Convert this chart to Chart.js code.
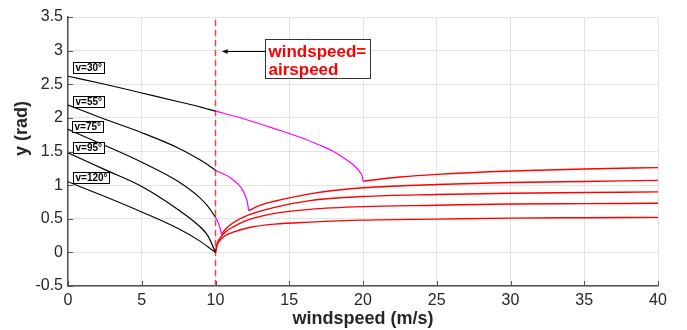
<!DOCTYPE html>
<html>
<head>
<meta charset="utf-8">
<script src="https://cdn.jsdelivr.net/npm/chart.js@4.4.1/dist/chart.umd.min.js"></script>
<style>
  html, body { margin: 0; padding: 0; background: #fff; }
  #wrap { width: 687px; height: 330px; position: relative; }
</style>
</head>
<body>
<div id="wrap"><canvas id="c"></canvas></div>
<script>
// black branch, windspeed 0..10
const blackX = [0, 2.5, 5, 7.5, 9, 9.5, 10];
const black30 = [2.62, 2.50, 2.37, 2.24, 2.16, 2.13, 2.10];
const black55 = [2.19, 1.98, 1.78, 1.55, 1.37, 1.30, 1.22];
const black75 = [1.83, 1.59, 1.34, 1.05, 0.80, 0.68, 0.52];
const black95 = [1.48, 1.23, 0.98, 0.63, 0.37, 0.24, 0.0];
const black120 = [1.05, 0.83, 0.60, 0.35, 0.16, 0.08, 0.0];

// magenta branch
const mag30X = [10, 12, 14, 16, 17, 18, 19, 19.5, 19.8, 19.95, 20];
const mag30 = [2.10, 1.98, 1.84, 1.69, 1.60, 1.50, 1.36, 1.27, 1.19, 1.13, 1.06];
const mag55X = [10, 10.5, 11, 11.5, 11.8, 12.0, 12.15, 12.25];
const mag55 = [1.22, 1.17, 1.11, 1.02, 0.94, 0.85, 0.76, 0.62];
const mag75X = [10, 10.15, 10.3, 10.4];
const mag75 = [0.52, 0.46, 0.37, 0.27];

// red branch
const red30X = [20, 22.5, 25, 30, 35, 40];
const red30 = [1.06, 1.12, 1.16, 1.21, 1.24, 1.26];
const red55X = [12.25, 13, 14, 15, 16.4, 18, 20, 25, 30, 35, 40];
const red55 = [0.62, 0.70, 0.76, 0.81, 0.87, 0.92, 0.96, 1.01, 1.04, 1.055, 1.07];
const red75X = [10.4, 10.7, 11.2, 12.3, 14, 16.4, 20, 25, 30, 35, 40];
const red75 = [0.27, 0.35, 0.44, 0.56, 0.67, 0.77, 0.83, 0.86, 0.88, 0.89, 0.90];
const redLowX = [10, 10.1, 10.3, 10.6, 11.2, 12.3, 14, 16.4, 20, 25, 30, 35, 40];
const red95 = [0, 0.12, 0.21, 0.29, 0.38, 0.49, 0.58, 0.64, 0.68, 0.70, 0.72, 0.725, 0.73];
const red120 = [0, 0.10, 0.18, 0.24, 0.30, 0.37, 0.42, 0.45, 0.48, 0.495, 0.51, 0.515, 0.52];

const airspeedX = [10, 10];
const airspeedY = [-0.5, 3.5];

const xTicks = [0, 5, 10, 15, 20, 25, 30, 35, 40];
const yTicks = [-0.5, 0, 0.5, 1, 1.5, 2, 2.5, 3, 3.5];

const vLabels = ["v=30°", "v=55°", "v=75°", "v=95°", "v=120°"];
const vLabelX = [0.32, 0.36, 0.25, 0.36, 0.32];
const vLabelY = [2.74, 2.235, 1.87, 1.545, 1.10];

const noteLines = ["windspeed=", "airspeed"];

const FONT = '"Liberation Sans", Arial, Helvetica, sans-serif';

const pts = (xs, ys) => xs.map((v, i) => ({ x: v, y: ys[i] }));
const line = (xs, ys, color, w) => ({
  data: pts(xs, ys), borderColor: color, backgroundColor: color,
  borderWidth: w, pointRadius: 0, cubicInterpolationMode: "monotone", fill: false,
});

const overlay = {
  id: "overlay",
  afterDatasetsDraw(chart) {
    const { ctx, chartArea: a, scales: { x, y } } = chart;
    ctx.save();

    // inward ticks, matlab style
    ctx.strokeStyle = "#555"; ctx.lineWidth = 1;
    ctx.beginPath();
    xTicks.forEach((v) => {
      const px = Math.round(x.getPixelForValue(v)) + 0.5;
      ctx.moveTo(px, a.bottom); ctx.lineTo(px, a.bottom - 5);
    });
    yTicks.forEach((v) => {
      const py = Math.round(y.getPixelForValue(v)) + 0.5;
      ctx.moveTo(a.left, py); ctx.lineTo(a.left + 5, py);
    });
    ctx.stroke();

    // v labels
    ctx.font = "bold 10px " + FONT;
    ctx.textBaseline = "middle"; ctx.textAlign = "left";
    vLabels.forEach((t, i) => {
      const px = Math.round(x.getPixelForValue(vLabelX[i])) + 0.5;
      const py = Math.round(y.getPixelForValue(vLabelY[i]));
      const w = Math.round(ctx.measureText(t).width + 4), h = 11;
      ctx.fillStyle = "#fff"; ctx.fillRect(px, py - 5.5, w, h);
      ctx.strokeStyle = "#000"; ctx.lineWidth = 1; ctx.strokeRect(px, py - 5.5, w, h);
      ctx.fillStyle = "#000"; ctx.fillText(t, px + 2, py + 0.5);
    });

    // windspeed = airspeed note
    ctx.font = "bold 17px " + FONT;
    const bx = Math.round(x.getPixelForValue(13.36)) + 0.5;
    const by = Math.round(y.getPixelForValue(3.18)) + 0.5;
    const bh = Math.round(y.getPixelForValue(2.60) - y.getPixelForValue(3.18));
    const bw = Math.round(Math.max(...noteLines.map((t) => ctx.measureText(t).width)) + 7);
    ctx.fillStyle = "#fff"; ctx.fillRect(bx, by, bw, bh);
    ctx.strokeStyle = "#333"; ctx.lineWidth = 1; ctx.strokeRect(bx, by, bw, bh);
    ctx.fillStyle = "#ff0000"; ctx.textBaseline = "alphabetic";
    ctx.fillText(noteLines[0], bx + 3, by + 17);
    ctx.fillText(noteLines[1], bx + 3, by + 35);

    const ay = Math.round(y.getPixelForValue(3.0)) + 0.5;
    const tip = x.getPixelForValue(10.42);
    ctx.strokeStyle = "#000"; ctx.lineWidth = 1;
    ctx.beginPath(); ctx.moveTo(bx, ay); ctx.lineTo(tip + 5, ay); ctx.stroke();
    ctx.fillStyle = "#000";
    ctx.beginPath(); ctx.moveTo(tip, ay); ctx.lineTo(tip + 6, ay - 2.2); ctx.lineTo(tip + 6, ay + 2.2); ctx.closePath(); ctx.fill();

    // axis titles
    ctx.fillStyle = "#262626";
    ctx.font = "bold 18px " + FONT;
    ctx.textAlign = "center"; ctx.textBaseline = "middle";
    ctx.fillText("windspeed (m/s)", x.getPixelForValue(20), 319);
    ctx.translate(22, 128.5);
    ctx.rotate(-Math.PI / 2);
    ctx.fillText("y (rad)", 0, 0);

    ctx.restore();
  },
};

const datasets = [
  line(blackX, black30, "#000", 1.1),
  line(blackX, black55, "#000", 1.1),
  line(blackX, black75, "#000", 1.1),
  line(blackX, black95, "#000", 1.3),
  line(blackX, black120, "#000", 1.1),
  line(mag30X, mag30, "#ff00ff", 1.2),
  line(mag55X, mag55, "#ff00ff", 1.2),
  line(mag75X, mag75, "#ff00ff", 1.2),
  line(red30X, red30, "#ff0000", 1.4),
  line(red55X, red55, "#ff0000", 1.4),
  line(red75X, red75, "#ff0000", 1.4),
  line(redLowX, red95, "#ff0000", 1.4),
  line(redLowX, red120, "#ff0000", 1.4),
  Object.assign(line(airspeedX, airspeedY, "#f04646", 1.5), { borderDash: [6, 4], cubicInterpolationMode: "default", tension: 0 }),
];

new Chart(document.getElementById("c"), {
  type: "line",
  data: { datasets },
  options: {
    responsive: true, maintainAspectRatio: false, animation: false,
    layout: { padding: { left: 0, top: 17, right: 29, bottom: 0 } },
    plugins: { legend: { display: false }, tooltip: { enabled: false } },
    scales: {
      x: {
        type: "linear", min: 0, max: 40,
        afterFit: (s) => { s.height = 44; },
        afterBuildTicks: (s) => { s.ticks = xTicks.map((v) => ({ value: v })); },
        ticks: { color: "#262626", font: { size: 16, family: FONT }, padding: 5, maxRotation: 0 },
        grid: { color: "#e3e3e3", lineWidth: 1, drawTicks: false },
        border: { color: "#555", width: 1.5 },
      },
      y: {
        type: "linear", min: -0.5, max: 3.5,
        afterFit: (s) => { s.width = 68; },
        afterBuildTicks: (s) => { s.ticks = yTicks.map((v) => ({ value: v })); },
        ticks: { color: "#262626", font: { size: 16, family: FONT }, padding: 5, callback: (v) => String(v) },
        grid: { color: "#e3e3e3", lineWidth: 1, drawTicks: false },
        border: { color: "#555", width: 1.5 },
      },
    },
  },
  plugins: [overlay],
});
</script>
</body>
</html>
